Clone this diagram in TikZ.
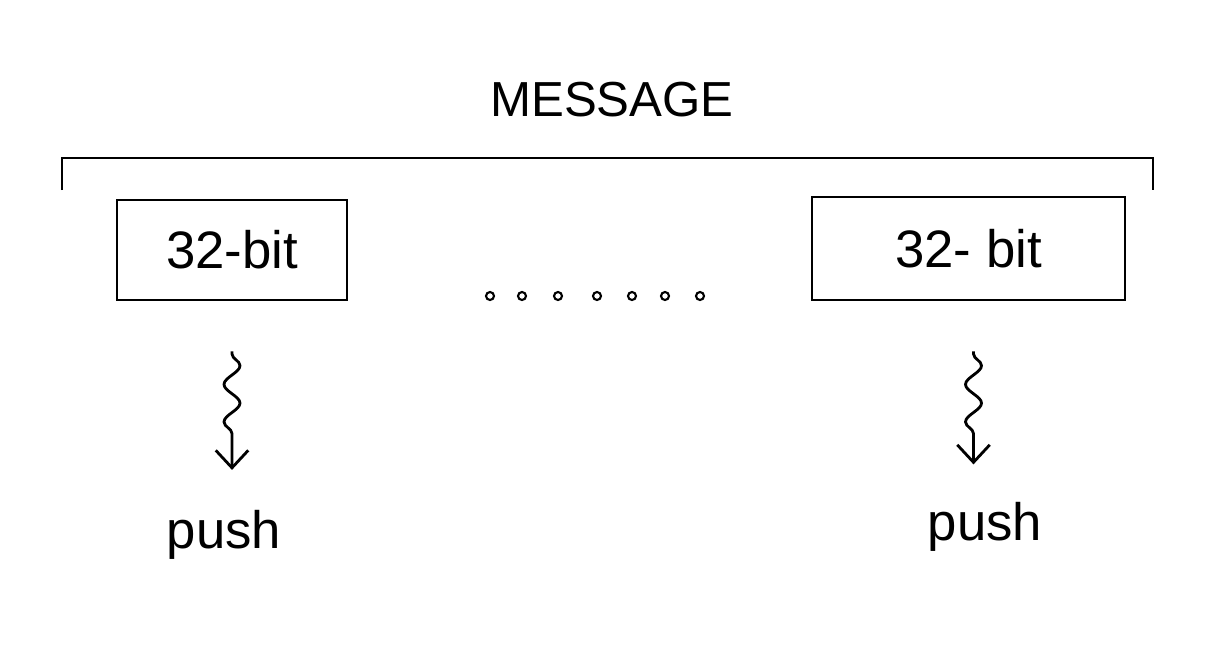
\documentclass[tikz,border=0pt]{standalone}
\usepackage{fontspec}
\setmainfont{Liberation Sans}
\usetikzlibrary{arrows.meta,decorations.pathmorphing}

\begin{document}
\begin{tikzpicture}[
    line width=1.6pt,
    bitbox/.style={draw, minimum height=2cm, inner sep=0pt, font=\fontsize{30}{36}\selectfont},
    pushlabel/.style={font=\fontsize{30}{36}\selectfont, anchor=base, inner sep=2pt},
    squiggle/.style={decorate, decoration={snake, segment length=0.75cm, amplitude=0.16cm, pre length=0.05cm, post length=0.45cm},
        -{Straight Barb[length=0.35cm,width=0.65cm]}},
    smalldot/.style={circle, draw, line width=1.2pt, minimum size=0.16cm, inner sep=0pt}
    ]
    \useasboundingbox (0,0) rectangle (24.42,-13.3);

    \node [font=\fontsize{28}{34}\selectfont] (msg) at (12.24,-2.0) {MESSAGE};

    % bracket over the whole message
    \coordinate (bl) at (1.24,-3.8);
    \coordinate (br) at (23.06,-3.8);
    \draw (bl) -- ++(0,0.64) -| (br);

    \node [bitbox, minimum width=4.6cm] (lbox) at (4.64,-5.0) {32-bit};
    \node [bitbox, minimum width=6.26cm, minimum height=2.06cm] (rbox) at (19.37,-4.97) {32- bit};

    \foreach \x [count=\i] in {9.8,10.44,11.16,11.94,12.64,13.3,14.0}
        \node [smalldot] (d\i) at (\x,-5.92) {};

    \node [pushlabel] (lpush) at (4.48,-10.96) {push};
    \node [pushlabel] (rpush) at (19.7,-10.8) {push};

    \draw [squiggle] ([yshift=-1cm]lbox.south) -- ([yshift=0.7cm]lbox.south |- lpush.north);
    \draw [squiggle] ([xshift=0.1cm,yshift=-1cm]rbox.south) -- ([xshift=0.1cm,yshift=0.65cm]rbox.south |- rpush.north);

\end{tikzpicture}
\end{document}
